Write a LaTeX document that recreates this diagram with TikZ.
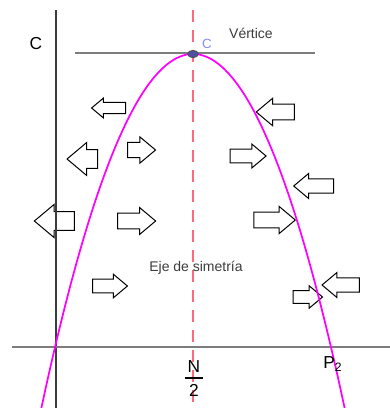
\documentclass[tikz,border=0pt]{standalone}
\usepackage{fontspec}
\setmainfont{Liberation Sans}
\usetikzlibrary{shapes.arrows,shapes.geometric}
\definecolor{axisgray}{RGB}{60,60,60}
\definecolor{linegray}{RGB}{125,125,125}
\definecolor{dashred}{RGB}{255,105,125}
\definecolor{parab}{RGB}{255,0,255}
\definecolor{ptblue}{RGB}{80,80,160}
\definecolor{lblue}{RGB}{135,135,255}
\definecolor{txtgray}{RGB}{60,60,60}
\tikzset{
  blk/.style 2 args={single arrow, draw=black, fill=white, line width=0.75pt,
    inner xsep=0pt, inner ysep={0.28*#2pt}, single arrow tip angle=80, single arrow head indent=0pt,
    minimum height=#1pt, minimum width=#2pt, single arrow head extend={0.22*#2pt}},
  blkL/.style 2 args={blk={#1}{#2}, shape border rotate=180},
  axisline/.style={axisgray, line width=1.2pt},
  lbl/.style={inner sep=0pt, text=txtgray}
}
\begin{document}
\begin{tikzpicture}[x=0.75pt, y=-0.75pt]
\useasboundingbox (0,0) rectangle (390,408);
% block arrows
\node[blkL={25.5}{14}]     (a1)  at (112,108) {};
\node[blkL={28.5}{20}]     (a2)  at (280,112) {};
\node[blkL={23}{24}]       (a3)  at (88,159) {};
\node[blk={21}{19}]        (a4)  at (137,150) {};
\node[blk={27}{17}]        (a5)  at (244,156) {};
\node[blkL={30}{18}]       (a6)  at (318,186) {};
\node[blkL={30}{24}]       (a7)  at (60,221) {};
\node[blk={28.5}{19.5}]    (a8)  at (132,221) {};
\node[blk={31}{19.5}]      (a9)  at (270,220) {};
\node[blk={26}{17}]        (a10) at (106,286) {};
\node[blk={22}{16}]        (a11) at (304,297) {};
\node[blkL={28}{18}]       (a12) at (345,285) {};
% axes
\coordinate (vtop) at (56,10);
\coordinate (vbot) at (56,408);
\coordinate (hl) at (12,347);
\coordinate (hr) at (390,347);
\draw[axisline] (vtop) -- (vbot);
\draw[linegray, line width=1.2pt] (hl) -- (hr);
% tangent line at vertex
\coordinate (tl) at (75,53);
\coordinate (tr) at (315,53);
\draw[linegray, line width=1.2pt] (tl) -- (tr);
% symmetry axis
\coordinate (stop) at (193,10);
\coordinate (sbot) at (193,408);
\draw[dashred, line width=2.2pt, dash pattern=on 9pt off 6pt] (stop) -- (sbot);
% parabola
\draw[parab, line width=1.3pt] plot[domain=40:346, samples=120] (\x, {54+0.01539*(\x-193)*(\x-193)});
% vertex point
\node[ellipse, draw=black!70, fill=ptblue, minimum width=8pt, minimum height=5.5pt, inner sep=0pt, line width=0.6pt] (vx) at (193,54) {};
% labels
\node[lbl, text=black, font=\fontsize{13}{15}\selectfont] (cl) at (36,44) {C};
\node[lbl, text=lblue, font=\fontsize{10}{12}\selectfont] (cv) at (207,44) {C};
\node[lbl, font=\fontsize{10.5}{12}\selectfont] (vert) at (251,33) {Vértice};
\node[lbl, font=\fontsize{10.5}{12}\selectfont] (eje) at (196,268) {Eje de simetría};
\node[lbl, text=black, font=\fontsize{13}{15}\selectfont] (nn) at (194,367) {N};
\node[lbl, text=black, font=\fontsize{13}{15}\selectfont] (two) at (194,390) {2};
\coordinate (fbl) at (185,378);
\coordinate (fbr) at (203,378);
\draw[black, line width=0.9pt] (fbl) -- (fbr);
\node[lbl, text=black, font=\fontsize{13}{15}\selectfont, anchor=west] (p2) at (323,364) {P\textsubscript{2}};
\end{tikzpicture}
\end{document}
